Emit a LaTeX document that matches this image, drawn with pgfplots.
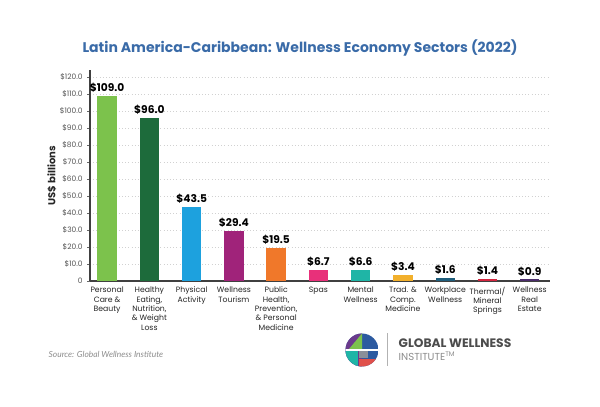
\documentclass[border=0pt]{standalone}
\usepackage{pgfplots}
\pgfplotsset{compat=1.18}
\usepackage{fontspec}
\setmainfont{Poppins}
\newfontfamily\srcfont{Lato}

\definecolor{titleblue}{HTML}{3A6BA8}
\definecolor{tickgray}{HTML}{555555}
\definecolor{c1}{HTML}{7CC24C}
\definecolor{c2}{HTML}{1D6B3B}
\definecolor{c3}{HTML}{1DA1DE}
\definecolor{c4}{HTML}{A0237A}
\definecolor{c5}{HTML}{F0782A}
\definecolor{c6}{HTML}{E8307A}
\definecolor{c7}{HTML}{1FB5A6}
\definecolor{c8}{HTML}{F2B02C}
\definecolor{c9}{HTML}{1F5E7C}
\definecolor{c10}{HTML}{D3263F}
\definecolor{c11}{HTML}{4B2D6B}
\definecolor{logoblue}{HTML}{2C5AA0}
\definecolor{logogreen}{HTML}{7CC24C}
\definecolor{logoteal}{HTML}{1FB5A6}
\definecolor{logopurple}{HTML}{6B3A8C}
\definecolor{logored}{HTML}{E0504A}
\definecolor{logogray}{HTML}{8A8F99}

\begin{document}
\begin{tikzpicture}[x=0.75pt,y=0.75pt]
\path[use as bounding box,fill=white] (0,0) rectangle (600,407);

% title
\node[font=\fontsize{10.5}{12}\selectfont\bfseries,text=titleblue] at (300,359) {Latin America-Caribbean: Wellness Economy Sectors (2022)};

\begin{axis}[
  at={(67.5pt,94.5pt)}, anchor=south west,
  scale only axis, width=345pt, height=158pt,
  xmin=-0.405, xmax=10.48, ymin=0, ymax=124,
  axis x line*=bottom, axis y line*=left,
  axis line style={draw=black!75, line width=0.8pt},
  xtick={0,1,...,10},
  xticklabels={{Personal\\Care \&\\Beauty},{Healthy\\Eating,\\Nutrition,\\\& Weight\\Loss},{Physical\\Activity},{Wellness\\Tourism},{Public\\Health,\\Prevention,\\\& Personal\\Medicine},{Spas},{Mental\\Wellness},{Trad. \&\\Comp.\\Medicine},{Workplace\\Wellness},{Thermal/\\Mineral\\Springs},{Wellness\\Real\\Estate}},
  x tick label style={font=\fontsize{5.8}{7}\selectfont, text=black!85, align=center, anchor=north, yshift=1pt},
  major x tick style={draw=none},
  ytick={0,10,...,120},
  yticklabels={0,\$10.0,\$20.0,\$30.0,\$40.0,\$50.0,\$60.0,\$70.0,\$80.0,\$90.0,\$100.0,\$110.0,\$120.0},
  y tick label style={font=\fontsize{5.6}{6}\selectfont, text=tickgray},
  /pgf/number format/assume math mode=true,
  major y tick style={draw=black!60, line width=0.4pt},
  tick align=outside, major tick length=2pt,
  ymajorgrids,
  grid style={draw=black!18, dotted, line width=0.5pt},
  ylabel={US\$ billions},
  ylabel shift=-4pt,
  ylabel style={font=\fontsize{7.5}{9}\selectfont\bfseries, text=black!85},
  every node near coord/.append style={font=\fontsize{8}{9}\selectfont\bfseries, text=black, yshift=-1pt},
  nodes near coords={\$\pgfmathprintnumber[fixed,fixed zerofill,precision=1]{\pgfplotspointmeta}},
  bar width=14.5pt,
  clip=false,
]
\addplot[ybar, draw=none, fill=c1] coordinates {(0,109.0)};
\addplot[ybar, draw=none, fill=c2] coordinates {(1,96.0)};
\addplot[ybar, draw=none, fill=c3] coordinates {(2,43.5)};
\addplot[ybar, draw=none, fill=c4] coordinates {(3,29.4)};
\addplot[ybar, draw=none, fill=c5] coordinates {(4,19.5)};
\addplot[ybar, draw=none, fill=c6] coordinates {(5,6.7)};
\addplot[ybar, draw=none, fill=c7] coordinates {(6,6.6)};
\addplot[ybar, draw=none, fill=c8] coordinates {(7,3.4)};
\addplot[ybar, draw=none, fill=c9] coordinates {(8,1.6)};
\addplot[ybar, draw=none, fill=c10] coordinates {(9,1.4)};
\addplot[ybar, draw=none, fill=c11] coordinates {(10,0.9)};
\end{axis}

% source note
\node[anchor=west, font=\fontsize{6.3}{7}\selectfont\srcfont\itshape, text=black!45] at (44,53) {Source: Global Wellness Institute};

% institute logo
\begin{scope}[shift={(362,57)}]
  \clip (0,0) circle (16.5);
  \fill[logoblue] (-17,-17) rectangle (17,17);
  \fill[logopurple] (-17,-17) rectangle (0,17);
  \fill[logogreen] (-13,1) -- (0,16.5) -- (0,1) -- cycle;
  \fill[logogreen] (-13,1) rectangle (0,-1);
  \fill[logoteal] (-17,-17) rectangle (-4,-1.5);
  \fill[logogray] (-3,-1.5) rectangle (6,-8.5);
  \fill[logored] (-3,-9.5) rectangle (17,-17);
  \fill[white] (-20,0.6) rectangle (20,-0.6);
\end{scope}
\draw[black!30, line width=0.6pt] (387,41) -- (387,74);
\node[anchor=west, font=\fontsize{9.2}{10}\selectfont\bfseries, text=black!70] at (394,64) {GLOBAL WELLNESS};
\node[anchor=west, font=\fontsize{7.6}{9}\selectfont, text=black!45] at (394,51) {INSTITUTE\textsuperscript{\tiny TM}};
\end{tikzpicture}
\end{document}
